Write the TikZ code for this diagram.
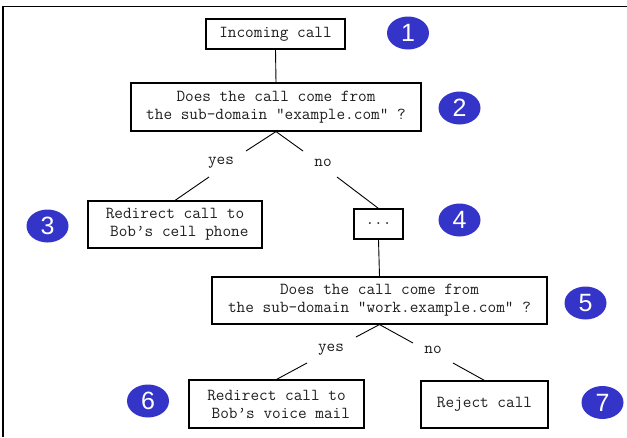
\documentclass[tikz,border=0pt]{standalone}
\usepackage{fontspec}
\setsansfont{Liberation Sans}
\usetikzlibrary{shapes.geometric}
\definecolor{badgeblue}{RGB}{52,52,200}
\definecolor{txtgray}{RGB}{30,30,30}
\tikzset{
  stepbox/.style={draw=black, line width=1.1pt, inner sep=0pt, align=center,
    text=txtgray, font=\ttfamily\fontsize{16.8}{18}\selectfont},
  lbl/.style={inner sep=0pt, text=txtgray, font=\ttfamily\fontsize{16.8}{18}\selectfont},
  badge/.style={ellipse, fill=badgeblue, draw=none, inner sep=0pt,
    minimum width=42pt, minimum height=33pt, text=white,
    font=\sffamily\fontsize{25}{25}\selectfont},
  conn/.style={draw=black, line width=0.9pt},
  frame/.style={draw=black, line width=1.6pt}
}
\begin{document}
\begin{tikzpicture}[x=1pt,y=-1pt]
\useasboundingbox (0,0) rectangle (627,437);
\draw[frame] (3,437) -- (3,6.5) -- (627,6.5);

\node[stepbox, minimum width=139pt, minimum height=30pt] (b1) at (275.5,34) {Incoming call};
\node[stepbox, minimum width=290pt, minimum height=48pt] (b2) at (276,107)
  {Does the call come from\\the sub-domain "example.com" ?};
\node[stepbox, minimum width=174pt, minimum height=47pt] (b3) at (175,224.5)
  {Redirect call to\\\phantom{x}Bob’s cell phone};
\node[stepbox, minimum width=49pt, minimum height=30pt] (b4) at (378.5,224) {...};
\node[stepbox, minimum width=335pt, minimum height=47pt] (b5) at (379.5,300.5)
  {Does the call come from\\the sub-domain "work.example.com" ?};
\node[stepbox, minimum width=175pt, minimum height=48pt] (b6) at (276.5,404)
  {Redirect call to\\\phantom{x}Bob’s voice mail};
\node[stepbox, minimum width=127pt, minimum height=47pt] (b7) at (484.5,404.5) {Reject call};

\node[lbl] (yes1) at (221,163) {yes};
\node[lbl] (no1) at (323,163) {no};
\node[lbl] (yes2) at (331,350) {yes};
\node[lbl] (no2) at (433,350) {no};

\coordinate (y1a) at (246,151);
\coordinate (y1b) at (209,177);
\coordinate (n1a) at (303,151);
\coordinate (n1b) at (337,177);
\coordinate (y2a) at (356,337);
\coordinate (y2b) at (307,363);
\coordinate (n2a) at (413,343);
\coordinate (n2b) at (453,363);

\draw[conn] (b1.south) -- (b2.north);
\draw[conn] (b2.south) -- (y1a);
\draw[conn] (b2.south) -- (n1a);
\draw[conn] (y1b) -- (b3.north);
\draw[conn] (n1b) -- (b4.north);
\draw[conn] (b4.south) -- (b5.north);
\draw[conn] (b5.south) -- (y2a);
\draw[conn] (b5.south) -- (n2a);
\draw[conn] (y2b) -- (b6.north);
\draw[conn] (n2b) -- (b7.north);

\node[badge] (c1) at (408,33) {1};
\node[badge] (c2) at (459.5,108) {2};
\node[badge] (c3) at (47.5,226) {3};
\node[badge] (c4) at (459.5,220) {4};
\node[badge] (c5) at (585.5,303) {5};
\node[badge] (c6) at (148,401) {6};
\node[badge] (c7) at (602.5,402.5) {7};
\end{tikzpicture}
\end{document}
